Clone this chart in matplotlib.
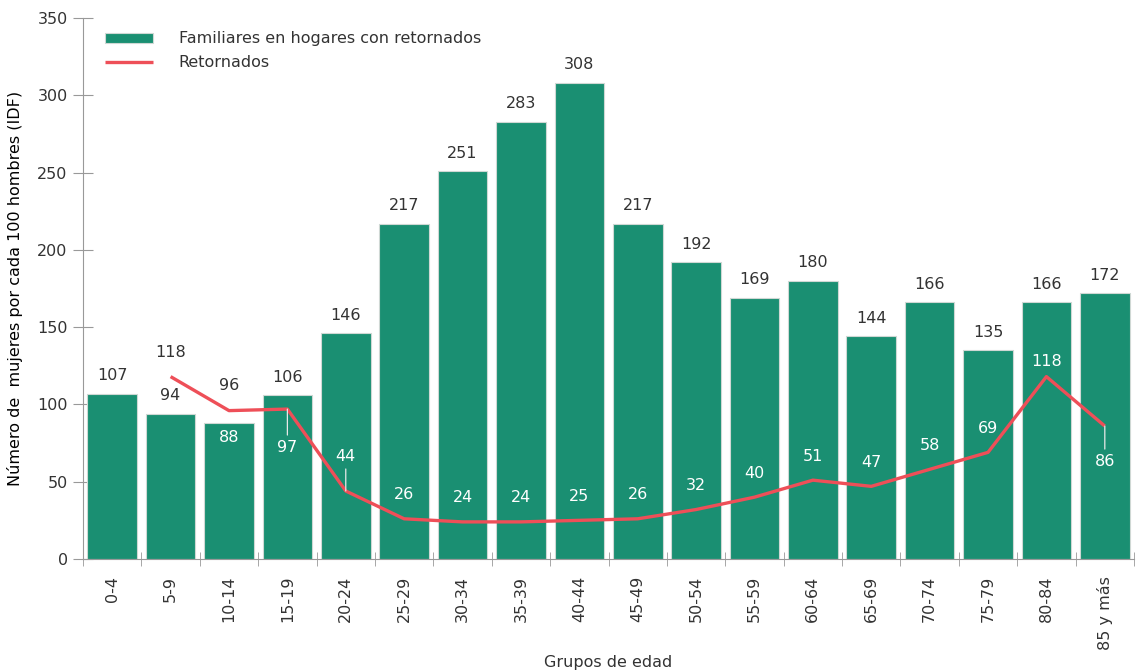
import matplotlib.pyplot as plt
import numpy as np

plt.rcParams['font.family'] = ['DejaVu Sans']

grupos = ['0-4', '5-9', '10-14', '15-19', '20-24', '25-29', '30-34', '35-39', '40-44',
          '45-49', '50-54', '55-59', '60-64', '65-69', '70-74', '75-79', '80-84', '85 y más']
familiares = [107, 94, 88, 106, 146, 217, 251, 283, 308, 217, 192, 169, 180, 144, 166, 135, 166, 172]
retornados = [np.nan, 118, 96, 97, 44, 26, 24, 24, 25, 26, 32, 40, 51, 47, 58, 69, 118, 86]

VERDE = '#1a8f72'
ROJO = '#ee4f58'
GRIS = '#333333'

# desplazamientos de etiquetas (pixeles, positivo = arriba) para la linea
desp_linea = {1: 24, 2: 25, 3: -38, 4: 34, 16: 15, 17: -35}
oscuras_linea = {1, 2}
guias = {3, 4, 17}

fig = plt.figure(figsize=(11.42, 6.7), dpi=100)
ax = fig.add_axes([0.0727, 0.1657, 0.9203, 0.8073])

x = np.arange(len(grupos))
barras = ax.bar(x, familiares, width=0.85, color=VERDE, edgecolor='#cfd8d4', linewidth=0.8,
                label='Familiares en hogares con retornados', zorder=2)
linea, = ax.plot(x, retornados, color=ROJO, lw=2.4, label='Retornados', zorder=3,
                 solid_capstyle='butt')

# etiquetas de barras
for i, v in enumerate(familiares):
    if i == 2:
        ax.annotate(str(v), (i, v), xytext=(0, -15), textcoords='offset pixels',
                    ha='center', va='center', color='white', fontsize=11.5, zorder=4)
    else:
        ax.annotate(str(v), (i, v), xytext=(0, 18), textcoords='offset pixels',
                    ha='center', va='center', color=GRIS, fontsize=11.5, zorder=4)

# etiquetas de la linea
for i, v in enumerate(retornados):
    if np.isnan(v):
        continue
    d = desp_linea.get(i, 24)
    col = GRIS if i in oscuras_linea else 'white'
    ax.annotate(str(int(v)), (i, v), xytext=(0, d), textcoords='offset pixels',
                ha='center', va='center', color=col, fontsize=11.5, zorder=4)
    if i in guias:
        fin = d + (-12 if d > 0 else 12)
        ax.annotate('', (i, v), xytext=(0, fin), textcoords='offset pixels',
                    arrowprops=dict(arrowstyle='-', color='#e8e8e8', lw=0.9,
                                    shrinkA=0, shrinkB=0), zorder=4)

ax.set_xlim(-0.5, len(grupos) - 0.5)
ax.set_ylim(0, 350)
ax.set_yticks(np.arange(0, 351, 50))
ax.set_xticks(x)
ax.set_xticklabels(grupos, rotation=90)
ax.set_xticks(np.arange(-0.5, len(grupos), 1), minor=True)
ax.tick_params(axis='x', which='major', length=0, pad=12, labelsize=11.5, labelcolor=GRIS)
ax.tick_params(axis='x', which='minor', direction='inout', length=10, color='#999999')
ax.tick_params(axis='y', direction='inout', length=14, color='#999999',
               labelsize=11.5, labelcolor=GRIS, pad=4)

for s in ['top', 'right']:
    ax.spines[s].set_visible(False)
ax.spines['left'].set_color('#999999')
ax.spines['bottom'].set_color('#999999')

ax.set_xlabel('Grupos de edad', fontsize=11.5, color=GRIS, labelpad=4)
ax.set_ylabel('Número de  mujeres por cada 100 hombres (IDF)', fontsize=11.5,
              color='black', labelpad=10)

ax.legend([barras, linea], ['Familiares en hogares con retornados', 'Retornados'],
          loc='upper left', bbox_to_anchor=(0.012, 0.993), frameon=False, fontsize=11.5,
          handlelength=3.0, handleheight=0.6, handletextpad=1.6, labelcolor=GRIS,
          borderaxespad=0.2, labelspacing=0.55)

fig.savefig('out.png', dpi=100)
